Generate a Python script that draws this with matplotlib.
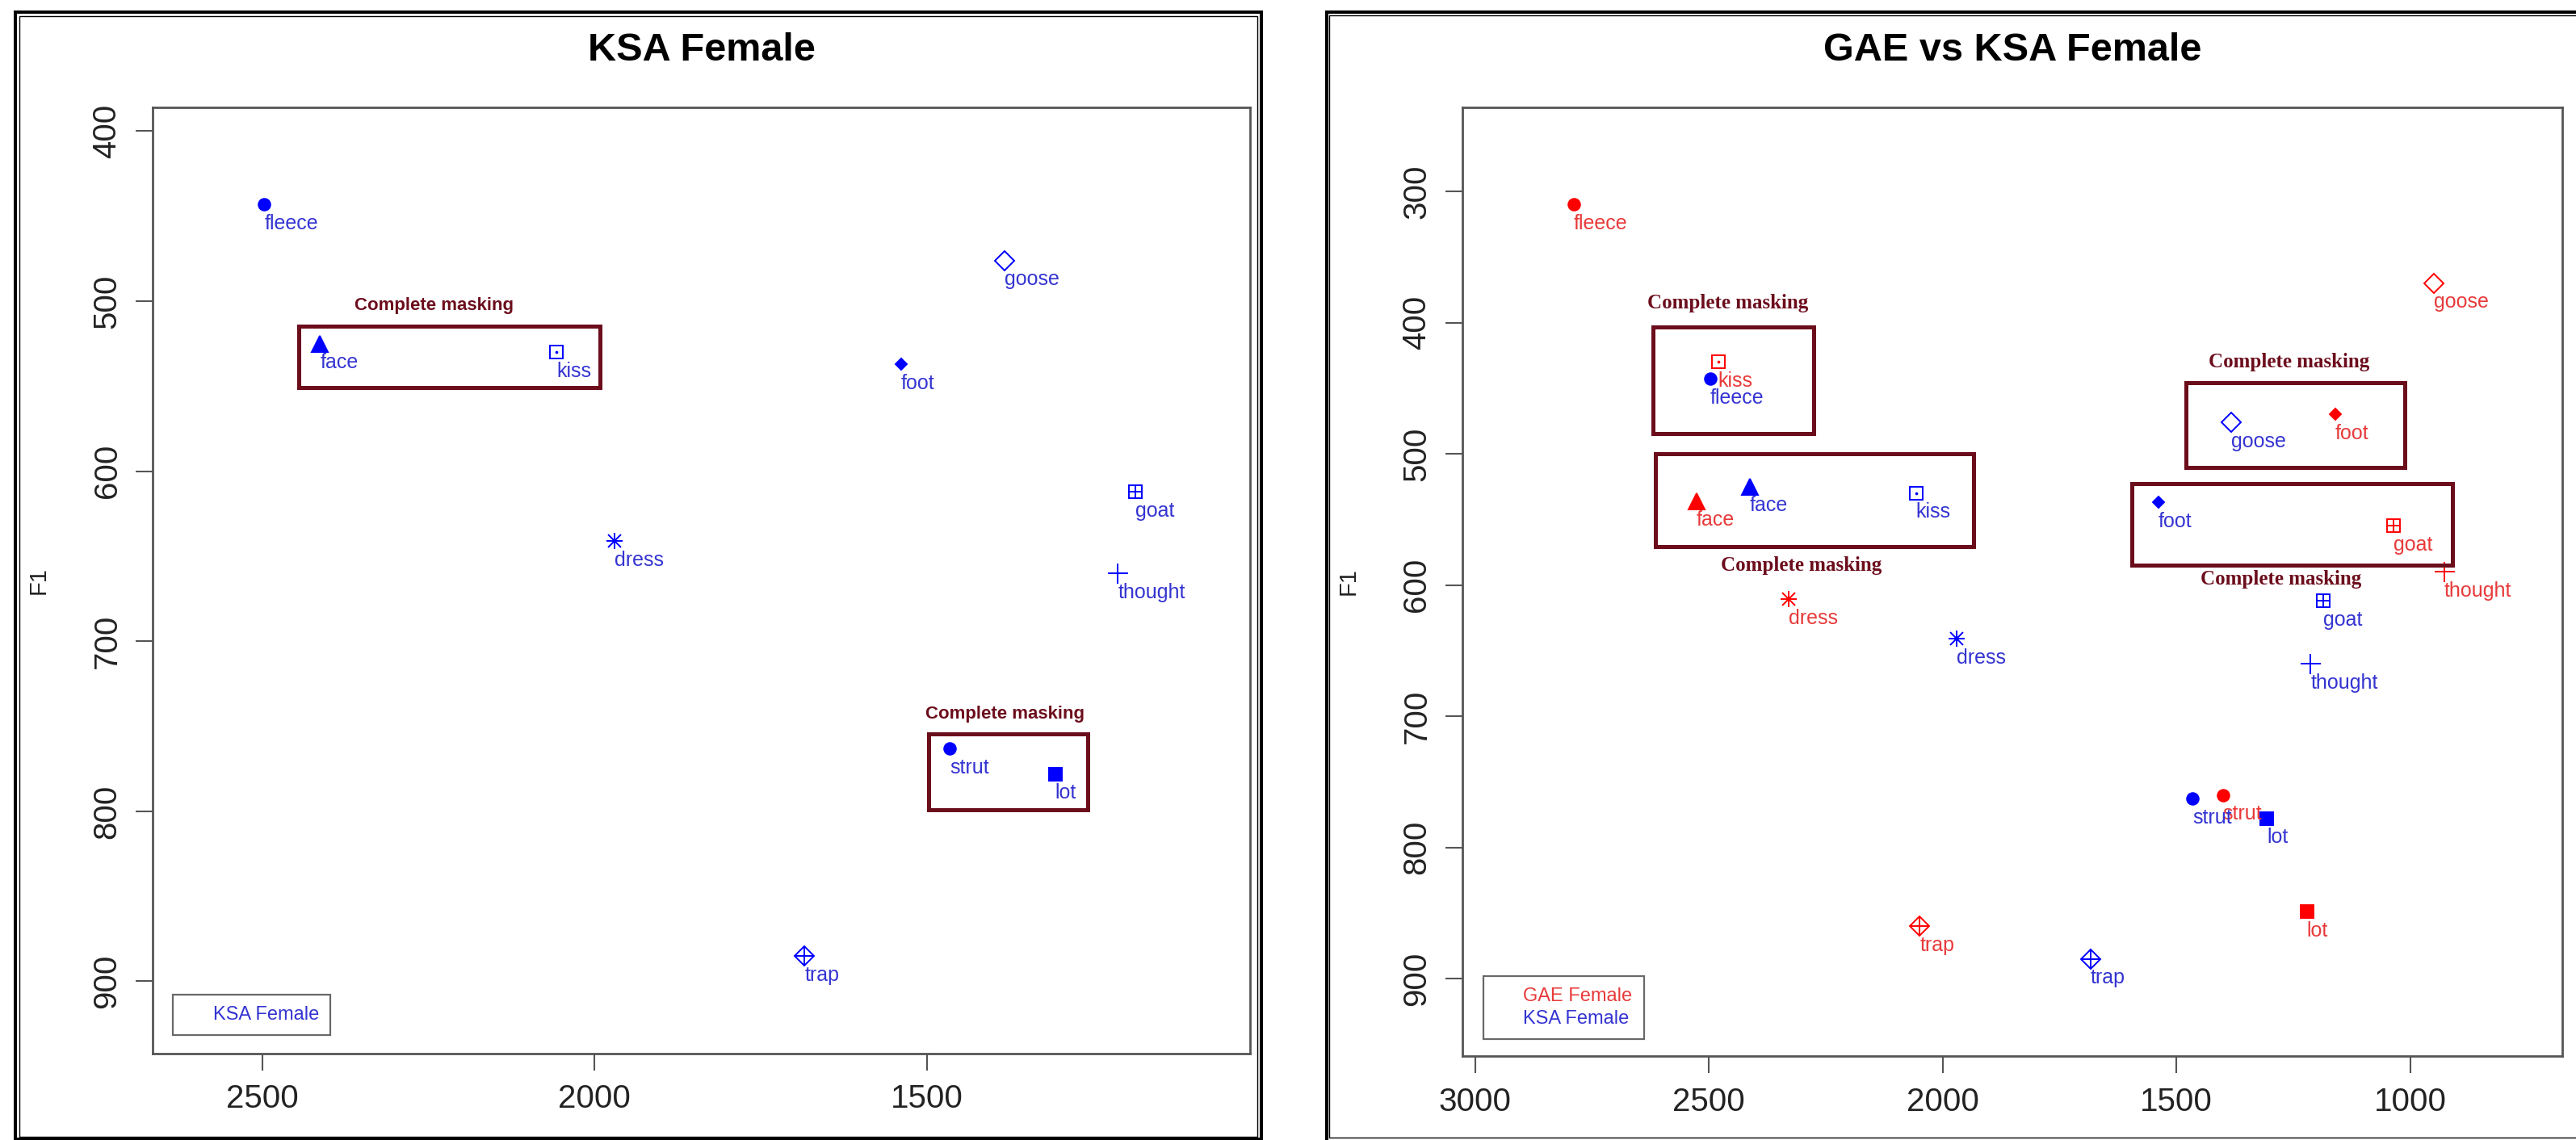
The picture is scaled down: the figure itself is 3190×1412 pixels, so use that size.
import matplotlib
matplotlib.use('Agg')
from matplotlib import pyplot as plt
from matplotlib.patches import Rectangle
from matplotlib.lines import Line2D

plt.rcParams['font.family'] = ['Liberation Sans', 'DejaVu Sans']

#%% data (F2 on x, F1 on y)
vowels = ['fleece', 'kiss', 'face', 'dress', 'trap', 'strut', 'lot', 'thought', 'foot', 'goose', 'goat']
ksa_f2 = [2497, 2057, 2413, 1970, 1684, 1466, 1307, 1213, 1539, 1383, 1186]
ksa_f1 = [443, 530, 525, 641, 885, 763, 778, 660, 537, 476, 612]
gae_f2 = [2789, 2480, 2526, 2329, 2049, 1401, 1221, 927, 1161, 949, 1036]
gae_f1 = [310, 430, 536, 611, 860, 760, 849, 590, 470, 370, 555]

left_xticks = [2500, 2000, 1500]
left_yticks = [400, 500, 600, 700, 800, 900]
right_xticks = [3000, 2500, 2000, 1500, 1000]
right_yticks = [300, 400, 500, 600, 700, 800, 900]

mask_text = 'Complete masking'

W, H = 3190, 1412
BLUE = '#0000ff'
RED = '#ff0000'
BLUE_TXT = '#3434d2'
RED_TXT = '#e83a3a'
MAROON = '#6c0d1c'
GRAY = '#555555'


def marker(ax, x, y, v, col):
    kw = dict(color=col, linestyle='none', mew=1.4, zorder=3)
    if v in ('fleece', 'strut'):
        ax.plot(x, y, 'o', ms=10.5, **kw)
    elif v == 'face':
        ax.plot(x, y, '^', ms=14, **kw)
    elif v == 'kiss':
        ax.plot(x, y, 's', ms=12, mfc='none', **kw)
        ax.plot(x, y, '.', ms=2.5, **kw)
    elif v == 'dress':
        ax.plot(x, y, '+', ms=15, **kw)
        ax.plot(x, y, 'x', ms=11, **kw)
    elif v == 'trap':
        ax.plot(x, y, 'D', ms=12, mfc='none', **kw)
        ax.plot(x, y, '+', ms=17, **kw)
    elif v == 'lot':
        ax.plot(x, y, 's', ms=11, **kw)
    elif v == 'thought':
        ax.plot(x, y, '+', ms=18, **kw)
    elif v == 'foot':
        ax.plot(x, y, 'D', ms=7, **kw)
    elif v == 'goose':
        ax.plot(x, y, 'D', ms=12, mfc='none', **kw)
    elif v == 'goat':
        ax.plot(x, y, 's', ms=12, mfc='none', **kw)
        ax.plot(x, y, '+', ms=12, **kw)


def series(ax, f2, f1, col, tcol):
    for v, x, y in zip(vowels, f2, f1):
        marker(ax, x, y, v, col)
        ax.annotate(v, (x, y), xytext=(0, -17), textcoords='offset points',
                    ha='left', va='center', fontsize=18, color=tcol, zorder=4)


def style(ax, xticks, yticks, title, ty):
    for s in ax.spines.values():
        s.set_color(GRAY)
        s.set_linewidth(2)
    ax.set_xticks(xticks)
    ax.set_yticks(yticks)
    ax.tick_params(length=15, width=1.5, color=GRAY, labelsize=29,
                   labelcolor='#222222')
    ax.tick_params(axis='x', pad=12)
    ax.tick_params(axis='y', labelrotation=90, pad=12)
    for lbl in ax.get_yticklabels():
        lbl.set_va('center')
    ax.text(0.5, ty, title, transform=ax.transAxes, ha='center', va='center',
            fontsize=35, fontweight='bold')
    ax.text(-0.104, 0.5, 'F1', transform=ax.transAxes, rotation=90,
            ha='center', va='center', fontsize=21, color='#222222')


def mask_box(ax, x0, x1, y0, y1):
    ax.add_patch(Rectangle((min(x0, x1), min(y0, y1)), abs(x1 - x0), abs(y1 - y0),
                           fill=False, edgecolor=MAROON, linewidth=3.6,
                           clip_on=False, zorder=5))


def legend(ax, labels, cols, anchor):
    handles = [Line2D([], [], color='none') for _ in labels]
    leg = ax.legend(handles, labels, loc='lower left', bbox_to_anchor=anchor,
                    borderaxespad=0, fontsize=17, handlelength=1.0,
                    handletextpad=0.5, borderpad=0.6, labelspacing=0.25,
                    fancybox=False)
    leg.get_frame().set_edgecolor('#444444')
    leg.get_frame().set_linewidth(1.6)
    for t, c in zip(leg.get_texts(), cols):
        t.set_color(c)


def px_rect(x0, y0, x1, y1, lw):
    return Rectangle((x0 / W, 1 - y1 / H), (x1 - x0) / W, (y1 - y0) / H,
                     transform=fig.transFigure, fill=False, edgecolor='black',
                     linewidth=lw, clip_on=False)


fig = plt.figure(figsize=(W / 100, H / 100), dpi=100)

# panel frames
fig.add_artist(px_rect(19, 15, 1561.5, 1411, 2.9))
fig.add_artist(px_rect(23.5, 19.5, 1557, 1407.5, 1.0))
fig.add_artist(px_rect(1642.5, 14.5, 3196, 1414, 2.9))
fig.add_artist(px_rect(1646.5, 19, 3192, 1408.5, 1.0))

#%% left: KSA Female
ax1 = fig.add_axes([189 / W, 1 - 1305 / H, 1359 / W, 1172 / H])
series(ax1, ksa_f2, ksa_f1, BLUE, BLUE_TXT)
ax1.set_xlim(2665, 1014)
ax1.set_ylim(942.5, 386)
style(ax1, left_xticks, left_yticks, 'KSA Female', 1.06)
legend(ax1, ['KSA Female'], [BLUE_TXT], (0.0184, 0.0196))

mask_box(ax1, 2445, 1992, 514.5, 551)
ax1.text(2242, 502.5, mask_text, ha='center', va='center', fontsize=16,
         fontweight='bold', color=MAROON)
mask_box(ax1, 1498, 1258, 754.5, 799)
ax1.text(1383, 743, mask_text, ha='center', va='center', fontsize=16,
         fontweight='bold', color=MAROON)

#%% right: GAE vs KSA Female
ax2 = fig.add_axes([1811 / W, 1 - 1308 / H, 1362 / W, 1175 / H])
series(ax2, gae_f2, gae_f1, RED, RED_TXT)
series(ax2, ksa_f2, ksa_f1, BLUE, BLUE_TXT)
ax2.set_xlim(3027, 675)
ax2.set_ylim(959, 236)
style(ax2, right_xticks, right_yticks, 'GAE vs KSA Female', 1.06)
legend(ax2, ['GAE Female', 'KSA Female'], [RED_TXT, BLUE_TXT], (0.019, 0.018))

serif = ['Liberation Serif', 'DejaVu Serif']
for (x0, x1, y0, y1), (tx, ty) in zip(
        [(2620, 2276, 403.5, 484.5), (2615, 1934, 500, 571),
         (1479, 1011, 446, 510.5), (1596, 909, 523, 585)],
        [(2459, 385), (2302, 585), (1259, 430), (1277, 595.5)]):
    mask_box(ax2, x0, x1, y0, y1)
    ax2.text(tx, ty, mask_text, ha='center', va='center', fontsize=18,
             fontweight='bold', color=MAROON, family=serif)

fig.savefig('out.png', dpi=100)
